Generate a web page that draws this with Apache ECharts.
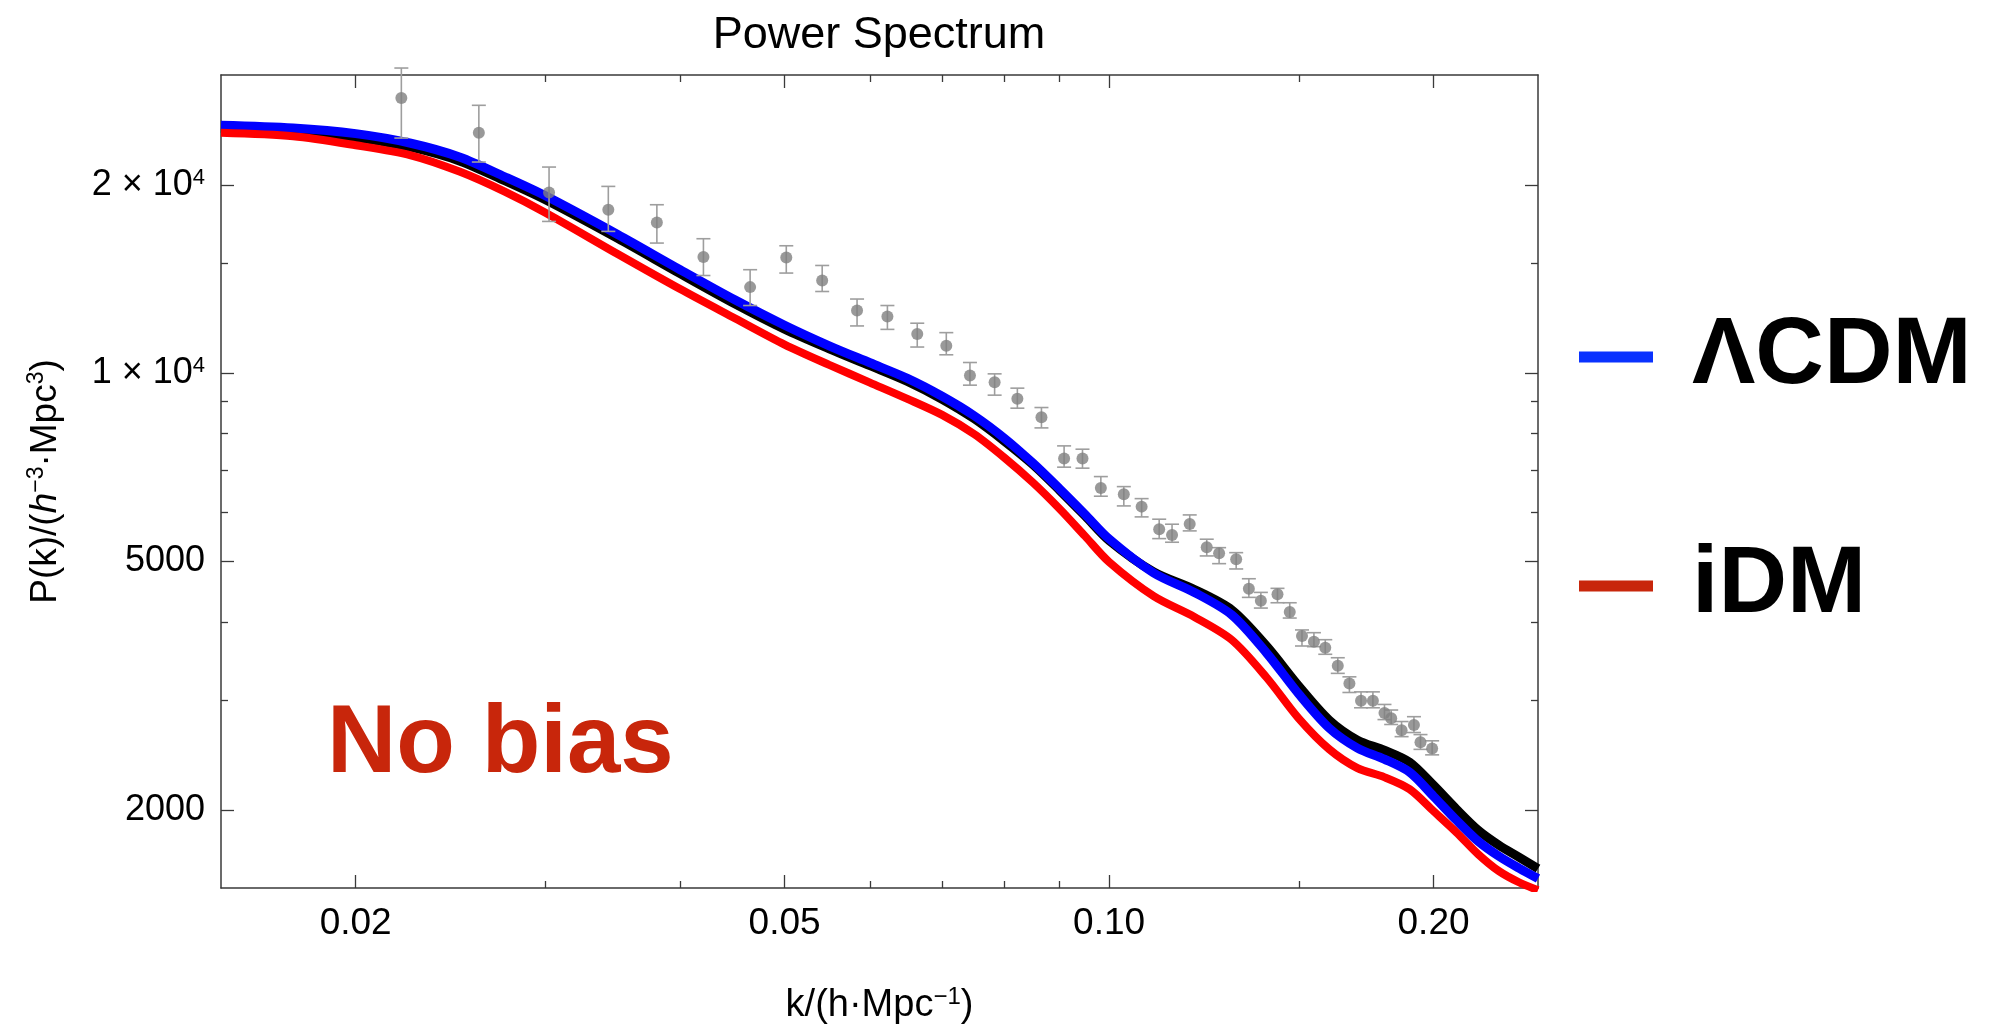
<!DOCTYPE html>
<html><head><meta charset="utf-8">
<script src="https://cdn.jsdelivr.net/npm/echarts@6/dist/echarts.min.js"></script>
<style>html,body{margin:0;padding:0;background:#fff}#c{width:1994px;height:1025px}</style>
</head><body><div id="c"></div>
<script>
// ---- model curves (k in h/Mpc, P in (Mpc/h)^3) ----
const kGrid = [0.015, 0.0175, 0.02, 0.0225, 0.025, 0.0275, 0.03, 0.035, 0.04, 0.045, 0.05, 0.055, 0.06, 0.065, 0.07, 0.075, 0.08, 0.085, 0.09, 0.095, 0.10, 0.11, 0.12, 0.13, 0.14, 0.15, 0.16, 0.17, 0.18, 0.19, 0.20, 0.21, 0.22, 0.23, 0.24, 0.25];
const pLCDM = [24930, 24680, 24170, 23330, 22160, 20620, 19220, 16670, 14640, 13090, 11930, 11060, 10390, 9810, 9184, 8543, 7863, 7177, 6527, 5944, 5429, 4789, 4457, 4102, 3566, 3064, 2705, 2512, 2412, 2299, 2103, 1926, 1782, 1686, 1614, 1553];
const pIDM = [24250, 23940, 23160, 22320, 21000, 19520, 18060, 15510, 13630, 12230, 11110, 10310, 9659, 9096, 8574, 7984, 7319, 6680, 6062, 5485, 4987, 4397, 4072, 3741, 3258, 2800, 2502, 2333, 2257, 2159, 1991, 1842, 1699, 1596, 1532, 1488];
const pBlack = [24660, 24360, 23820, 22990, 21840, 20320, 18940, 16430, 14430, 12900, 11760, 10940, 10280, 9700, 9083, 8449, 7777, 7138, 6491, 5911, 5399, 4807, 4506, 4178, 3659, 3156, 2786, 2587, 2493, 2385, 2190, 2006, 1856, 1756, 1681, 1611];

// ---- measured points with error bars ----
const kData = [0.02205, 0.02602, 0.03023, 0.03431, 0.03806, 0.04204, 0.04645, 0.05018, 0.05418, 0.05837, 0.06228, 0.06638, 0.07063, 0.07429, 0.07831, 0.08221, 0.08655, 0.09084, 0.09448, 0.09826, 0.1032, 0.1072, 0.1113, 0.1144, 0.1188, 0.1232, 0.1265, 0.1312, 0.1348, 0.1383, 0.1433, 0.1471, 0.1510, 0.1549, 0.1587, 0.1630, 0.1671, 0.1713, 0.1757, 0.1801, 0.1827, 0.1868, 0.1918, 0.1945, 0.1994];
const pData = [27570, 24240, 19460, 18260, 17420, 15340, 13730, 15310, 14070, 12600, 12320, 11550, 11060, 9912, 9673, 9096, 8502, 7300, 7300, 6551, 6401, 6115, 5627, 5510, 5738, 5265, 5150, 5037, 4518, 4323, 4426, 4146, 3797, 3718, 3636, 3402, 3187, 2990, 2990, 2858, 2803, 2683, 2736, 2566, 2508];
const pLow = [23780, 21770, 17490, 16860, 16150, 14330, 12830, 14460, 13510, 11900, 11750, 11010, 10700, 9567, 9221, 8789, 8173, 7072, 7046, 6354, 6131, 5888, 5435, 5363, 5592, 5099, 4956, 4860, 4377, 4208, 4291, 4056, 3659, 3650, 3549, 3308, 3083, 2914, 2914, 2790, 2740, 2620, 2660, 2500, 2450];
const pHigh = [30780, 26830, 21370, 19900, 18600, 16410, 14640, 15990, 14870, 13140, 12830, 12020, 11610, 10400, 9974, 9462, 8810, 7649, 7556, 6831, 6583, 6298, 5838, 5731, 5931, 5423, 5257, 5161, 4688, 4458, 4525, 4291, 3882, 3843, 3745, 3504, 3266, 3090, 3090, 2950, 2890, 2770, 2820, 2640, 2580];

// ---- axes ----
const xRange = [0.015, 0.25];
const yRange = [1500, 30000];
const xMajorTicks = [0.02, 0.05, 0.10, 0.20];
const xMinorTicks = [0.03, 0.04, 0.06, 0.07, 0.08, 0.09, 0.15];
const yMajorTicks = [2000, 5000, 10000, 20000];
const yMinorTicks = [3000, 4000, 6000, 7000, 8000, 9000, 15000];

const L = Math.log10;
const FONT = '"Liberation Sans", Arial, Helvetica, sans-serif';
const AX = '#3a3a3a';

function xAx(pos, ticks, len, showLine, label) {
  return {
    type: 'value', position: pos, min: L(xRange[0]), max: L(xRange[1]),
    splitLine: {show: false},
    axisLine: {show: showLine, onZero: false, lineStyle: {color: AX, width: 1.5}},
    axisTick: {show: true, inside: true, length: len, customValues: ticks.map(L), lineStyle: {color: AX, width: 1.3}},
    axisLabel: label || {show: false}
  };
}
function yAx(pos, ticks, len, showLine, label) {
  return {
    type: 'value', position: pos, min: L(yRange[0]), max: L(yRange[1]),
    splitLine: {show: false},
    axisLine: {show: showLine, onZero: false, lineStyle: {color: AX, width: 1.5}},
    axisTick: {show: true, inside: true, length: len, customValues: ticks.map(L), lineStyle: {color: AX, width: 1.3}},
    axisLabel: label || {show: false}
  };
}

const xMain = xAx('bottom', xMajorTicks, 13, true, {
  show: true, customValues: xMajorTicks.map(L), margin: 17,
  fontSize: 37, color: '#000', fontFamily: FONT,
  formatter: v => Math.pow(10, v).toFixed(2)
});
xMain.name = 'k/(h·Mpc{s|−1})';
xMain.nameLocation = 'middle';
xMain.nameGap = 97;
xMain.nameTextStyle = {fontSize: 38, color: '#000', fontFamily: FONT,
  rich: {s: {fontSize: 24, fontFamily: FONT, color: '#000', padding: [0, 0, 18, 0]}}};

const yMain = yAx('left', yMajorTicks, 13, true, {
  show: true, customValues: yMajorTicks.map(L), margin: 16,
  fontSize: 36, color: '#000', fontFamily: FONT,
  formatter: v => {
    const val = Math.round(Math.pow(10, v));
    if (val >= 10000) return '{m|' + Math.round(val / 10000) + ' × 10}{s|4}';
    return '{m|' + val + '}';
  },
  rich: {
    m: {fontSize: 36, fontFamily: FONT, color: '#000'},
    s: {fontSize: 22, fontFamily: FONT, color: '#000', padding: [0, 0, 15, 0]}
  }
});
yMain.name = 'P(k)/({i|h}{s|−3}·Mpc{s|3})';
yMain.nameLocation = 'middle';
yMain.nameGap = 155;
yMain.nameTextStyle = {fontSize: 37, color: '#000', fontFamily: FONT,
  rich: {
    i: {fontSize: 37, fontStyle: 'italic', fontFamily: FONT, color: '#000'},
    s: {fontSize: 23, fontFamily: FONT, color: '#000', padding: [0, 0, 18, 0]}
  }};

const lineData = arr => kGrid.map((k, i) => [L(k), L(arr[i])]);

const option = {
  animation: false,
  backgroundColor: '#fff',
  textStyle: {fontFamily: FONT},
  title: {
    text: 'Power Spectrum', left: 879, top: 13, textAlign: 'center', padding: 0,
    textStyle: {fontSize: 45, fontWeight: 'normal', color: '#000', fontFamily: FONT}
  },
  grid: {left: 221, top: 75, right: 456, bottom: 137, containLabel: false, outerBoundsMode: 'none'},
  xAxis: [
    xMain,
    xAx('bottom', xMinorTicks, 7, false),
    xAx('top', xMajorTicks, 13, true),
    xAx('top', xMinorTicks, 7, false)
  ],
  yAxis: [
    yMain,
    yAx('left', yMinorTicks, 7, false),
    yAx('right', yMajorTicks, 13, true),
    yAx('right', yMinorTicks, 7, false)
  ],
  legend: [
    {
      left: 1579, top: 300, orient: 'vertical', padding: 0, selectedMode: false,
      icon: 'rect', itemWidth: 74, itemHeight: 11,
      data: [{name: 'ΛCDM', itemStyle: {color: '#0a32ff', borderWidth: 0}}],
      textStyle: {fontSize: 95, fontWeight: 'bold', color: '#000', fontFamily: FONT, lineHeight: 100, padding: [0, 0, 14, 34]}
    },
    {
      left: 1579, top: 529, orient: 'vertical', padding: 0, selectedMode: false,
      icon: 'rect', itemWidth: 74, itemHeight: 11,
      data: [{name: 'iDM', itemStyle: {color: '#c8260b', borderWidth: 0}}],
      textStyle: {fontSize: 95, fontWeight: 'bold', color: '#000', fontFamily: FONT, lineHeight: 100, padding: [0, 0, 14, 34]}
    }
  ],
  graphic: [{
    type: 'text', left: 327, top: 698,
    style: {text: 'No bias', font: 'bold 96px ' + FONT, fill: '#c8260b'}
  }],
  series: [
    {
      name: 'black', type: 'line', data: lineData(pBlack), showSymbol: false, smooth: 0.3,
      lineStyle: {color: '#000', width: 9}, z: 2, silent: true
    },
    {
      name: 'ΛCDM', type: 'line', data: lineData(pLCDM), showSymbol: false, smooth: 0.3,
      itemStyle: {color: '#0000ff'},
      lineStyle: {color: '#0000ff', width: 9}, z: 3, silent: true
    },
    {
      name: 'iDM', type: 'line', data: lineData(pIDM), showSymbol: false, smooth: 0.3,
      itemStyle: {color: '#ff0000'},
      lineStyle: {color: '#ff0000', width: 8}, z: 3, silent: true
    },
    {
      name: 'err', type: 'custom', clip: false, z: 5, silent: true,
      data: kData.map((k, i) => [L(k), L(pLow[i]), L(pHigh[i])]),
      encode: {x: 0, y: [1, 2]},
      renderItem: function (params, api) {
        const x = api.value(0);
        const a = api.coord([x, api.value(1)]);
        const b = api.coord([x, api.value(2)]);
        const hw = 7;
        const st = {stroke: '#9e9e9e', lineWidth: 1.6};
        return {type: 'group', children: [
          {type: 'line', shape: {x1: a[0], y1: a[1], x2: b[0], y2: b[1]}, style: st},
          {type: 'line', shape: {x1: a[0] - hw, y1: a[1], x2: a[0] + hw, y2: a[1]}, style: st},
          {type: 'line', shape: {x1: b[0] - hw, y1: b[1], x2: b[0] + hw, y2: b[1]}, style: st}
        ]};
      }
    },
    {
      name: 'data', type: 'scatter', z: 6, silent: true,
      data: kData.map((k, i) => [L(k), L(pData[i])]),
      symbol: 'circle', symbolSize: 12,
      itemStyle: {color: '#7f7f7f'}
    }
  ]
};
const chart = echarts.init(document.getElementById('c'), null, {renderer: 'canvas'});
chart.setOption(option);
</script>
</body></html>
